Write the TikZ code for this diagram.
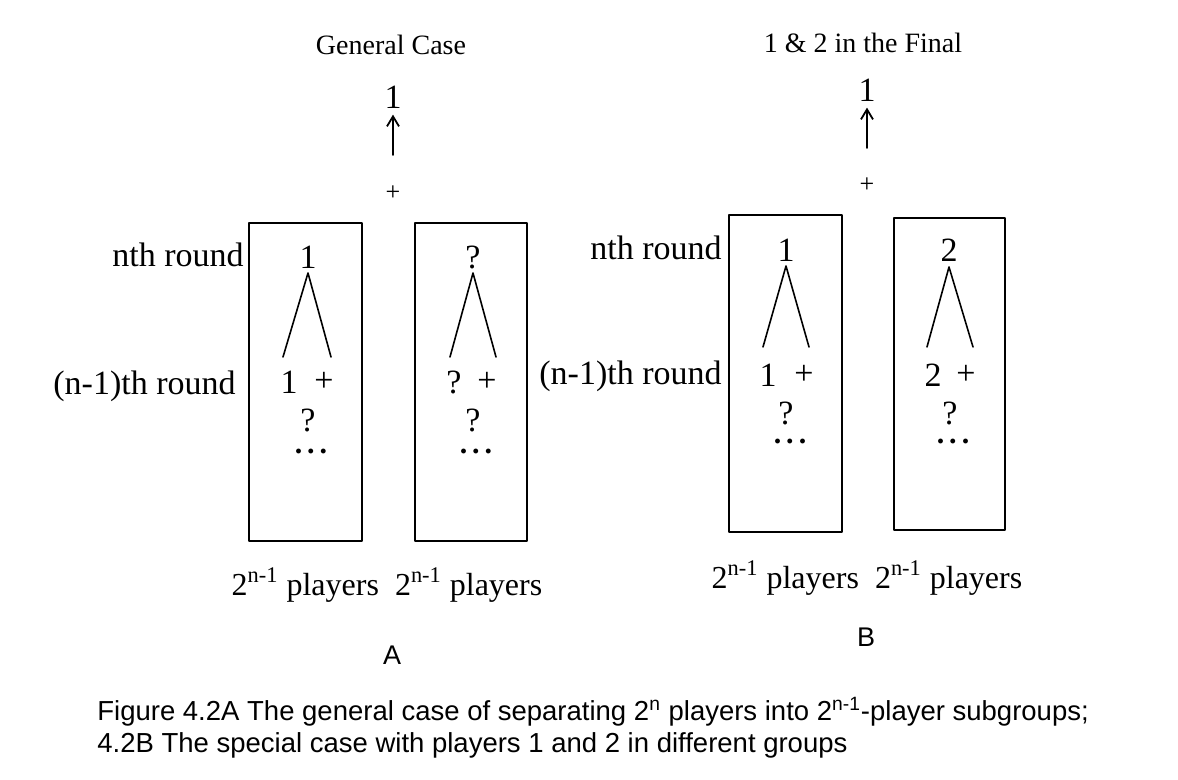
\documentclass[tikz,border=0pt]{standalone}
\usepackage{fontspec}
\setmainfont{Liberation Serif}
\newfontfamily\capfont{Liberation Sans}
\usetikzlibrary{arrows.meta}
\begin{document}
\begin{tikzpicture}[x=0.5pt,y=-0.5pt,line cap=round,line join=round,
  lbl/.style={font=\fontsize{17}{20}\selectfont,inner sep=0pt},
  ttl/.style={font=\fontsize{14}{17}\selectfont,inner sep=0pt},
  sml/.style={font=\fontsize{13}{16}\selectfont,inner sep=0pt},
  sns/.style={font=\capfont\fontsize{13.5}{16}\selectfont,inner sep=0pt},
  figcap/.style={font=\capfont\fontsize{13.75}{16}\selectfont,inner sep=0pt,anchor=west},
  dts/.style={font=\bfseries\fontsize{15}{18}\selectfont,inner sep=0pt,anchor=base},
  grp/.style={line width=0.9pt},
  leg/.style={line width=0.8pt},
  upar/.style={line width=0.9pt,shorten >=3pt,-{Straight Barb[length=5pt,width=6pt]}}]
  \useasboundingbox (0,0) rectangle (1178,780);
  % ---- A: general case
  \node[ttl] (tA) at (391,45) {General Case};
  \node[lbl] (winA) at (393,97) {1};
  \coordinate (winAb) at (393,155);
  \draw[upar] (winAb) -- (winA.south);
  \node[sml] (plA) at (393,193) {+};
  \draw[grp] (249,223) rectangle (362,541);
  \draw[line width=0.7pt] (415,223) rectangle (527,541);
  \node[lbl,anchor=base east] (nA) at (244,267) {nth round};
  \node[lbl,anchor=base east] (mA) at (236,395) {(n-1)th round};
  % left group
  \node[lbl] (a1) at (308,257) {1};
  \coordinate (a1t) at (308,273);
  \coordinate (a1l) at (283,357);
  \coordinate (a1r) at (331,357);
  \draw[leg] (a1l) -- (a1t) -- (a1r);
  \node[lbl] (a1x) at (289,382) {1};
  \node[lbl] (a1p) at (324,382) {+};
  \node[lbl] (a1q) at (308,420) {?};
  \node[dts] (a1d) at (311,454) {.\kern2.5pt.\kern2.5pt.};
  % right group
  \node[lbl] (a2) at (473,257) {?};
  \coordinate (a2t) at (473,273);
  \coordinate (a2l) at (450,357);
  \coordinate (a2r) at (496,357);
  \draw[leg] (a2l) -- (a2t) -- (a2r);
  \node[lbl] (a2x) at (454,382) {?};
  \node[lbl] (a2p) at (487,382) {+};
  \node[lbl] (a2q) at (473,420) {?};
  \node[dts] (a2d) at (476,454) {.\kern2.5pt.\kern2.5pt.};
  \node[lbl,font=\fontsize{16}{19}\selectfont] (gA) at (387,585) {2\textsuperscript{n-1} players\ \ 2\textsuperscript{n-1} players};
  \node[sns] (capA) at (392,655) {A};
  % ---- B: 1 and 2 in the final
  \node[ttl] (tB) at (863,43) {1 \& 2 in the Final};
  \node[lbl] (winB) at (867,90) {1};
  \coordinate (winBb) at (867,148);
  \draw[upar] (winBb) -- (winB.south);
  \node[sml] (plB) at (867,185) {+};
  \draw[grp] (729,215) rectangle (842,532);
  \draw[line width=0.7pt] (894,218) rectangle (1005,530);
  \node[lbl,anchor=base east] (nB) at (722,260) {nth round};
  \node[lbl,anchor=base east] (mB) at (722,385) {(n-1)th round};
  % left group
  \node[lbl] (b1) at (786,250) {1};
  \coordinate (b1t) at (786,266);
  \coordinate (b1l) at (763,347);
  \coordinate (b1r) at (809,347);
  \draw[leg] (b1l) -- (b1t) -- (b1r);
  \node[lbl] (b1x) at (768,375) {1};
  \node[lbl] (b1p) at (804,375) {+};
  \node[lbl] (b1q) at (786,413) {?};
  \node[dts] (b1d) at (790,444) {.\kern2.5pt.\kern2.5pt.};
  % right group
  \node[lbl] (b2) at (949,250) {2};
  \coordinate (b2t) at (949,267);
  \coordinate (b2l) at (927,347);
  \coordinate (b2r) at (973,347);
  \draw[leg] (b2l) -- (b2t) -- (b2r);
  \node[lbl] (b2x) at (933,375) {2};
  \node[lbl] (b2p) at (966,375) {+};
  \node[lbl] (b2q) at (950,413) {?};
  \node[dts] (b2d) at (953,444) {.\kern2.5pt.\kern2.5pt.};
  \node[lbl,font=\fontsize{16}{19}\selectfont] (gB) at (867,578) {2\textsuperscript{n-1} players\ \ 2\textsuperscript{n-1} players};
  \node[sns] (capB) at (866,637) {B};
  % caption
  \node[figcap] (fig1) at (97,712) {Figure 4.2A The general case of separating 2\textsuperscript{n} players into 2\textsuperscript{n-1}-player subgroups;};
  \node[figcap] (fig2) at (97,745) {4.2B The special case with players 1 and 2 in different groups};
\end{tikzpicture}
\end{document}
